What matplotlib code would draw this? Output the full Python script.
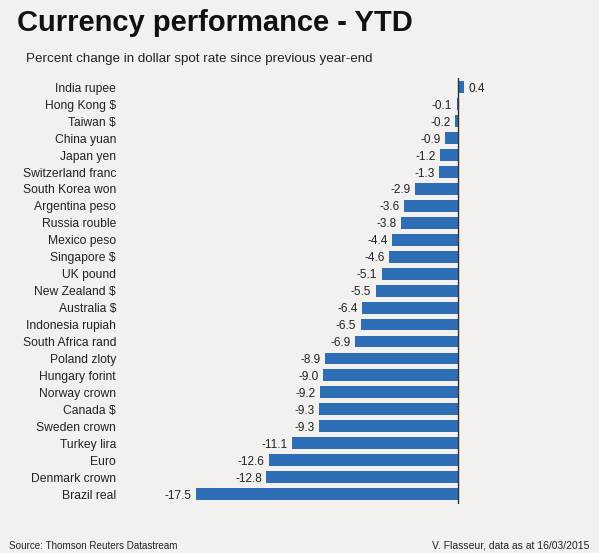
import matplotlib
matplotlib.use("Agg")
import matplotlib.pyplot as plt

plt.rcParams['font.family'] = ['Liberation Sans', 'DejaVu Sans']

currencies = [
    "India rupee", "Hong Kong $", "Taiwan $", "China yuan", "Japan yen",
    "Switzerland franc", "South Korea won", "Argentina peso", "Russia rouble",
    "Mexico peso", "Singapore $", "UK pound", "New Zealand $", "Australia $",
    "Indonesia rupiah", "South Africa rand", "Poland zloty", "Hungary forint",
    "Norway crown", "Canada $", "Sweden crown", "Turkey lira", "Euro",
    "Denmark crown", "Brazil real",
]
change = [
    0.4, -0.1, -0.2, -0.9, -1.2, -1.3, -2.9, -3.6, -3.8, -4.4, -4.6, -5.1,
    -5.5, -6.4, -6.5, -6.9, -8.9, -9.0, -9.2, -9.3, -9.3, -11.1, -12.6,
    -12.8, -17.5,
]

bg = "#f2f1ef"
bar_color = "#2e6eb7"

W, H = 599, 553
fig = plt.figure(figsize=(W / 100, H / 100), dpi=100, facecolor=bg)

# axes placed in pixel terms: zero line at x=458, 15 px per unit
left_px, right_px, top_px, bot_px = 130, 520, 78, 504
ax = fig.add_axes([left_px / W, 1 - bot_px / H,
                   (right_px - left_px) / W, (bot_px - top_px) / H])
ax.set_facecolor(bg)

ypos = list(range(len(currencies)))
ax.barh(ypos, change, height=0.7, color=bar_color, zorder=2)
ax.axvline(0, color="#333333", lw=1, zorder=3)

ax.set_xlim((left_px - 458) / 15, (right_px - 458) / 15)
ax.set_ylim(24 + (bot_px - 494) / 16.96, (top_px - 87.3) / 16.96)

for y, v in zip(ypos, change):
    if v < 0:
        ax.annotate(f"{v:.1f}", (v, y), xytext=(-3, 0), textcoords="offset points",
                    ha="right", va="center_baseline", fontsize=8.5, color="#222222")
    else:
        ax.annotate(f"{v:.1f}", (v, y), xytext=(3, 0), textcoords="offset points",
                    ha="left", va="center_baseline", fontsize=8.5, color="#222222")

ax.set_yticks(ypos)
ax.set_yticklabels(currencies, fontsize=8.7, color="#222222", va="center_baseline")
ax.tick_params(axis="y", length=0, pad=10)
ax.set_xticks([])
for s in ax.spines.values():
    s.set_visible(False)

fig.text(17 / W, 1 - 31 / H, "Currency performance - YTD", fontsize=21,
         fontweight="bold", color="#111111", ha="left", va="baseline")
fig.text(26 / W, 1 - 62 / H, "Percent change in dollar spot rate since previous year-end",
         fontsize=9.6, color="#222222", ha="left", va="baseline")
fig.text(9 / W, 1 - 549 / H, "Source: Thomson Reuters Datastream",
         fontsize=7.1, color="#222222", ha="left", va="baseline")
fig.text(589 / W, 1 - 549 / H, "V. Flasseur, data as at 16/03/2015",
         fontsize=7.5, color="#222222", ha="right", va="baseline")

fig.savefig("out.png", dpi=100, facecolor=bg)
